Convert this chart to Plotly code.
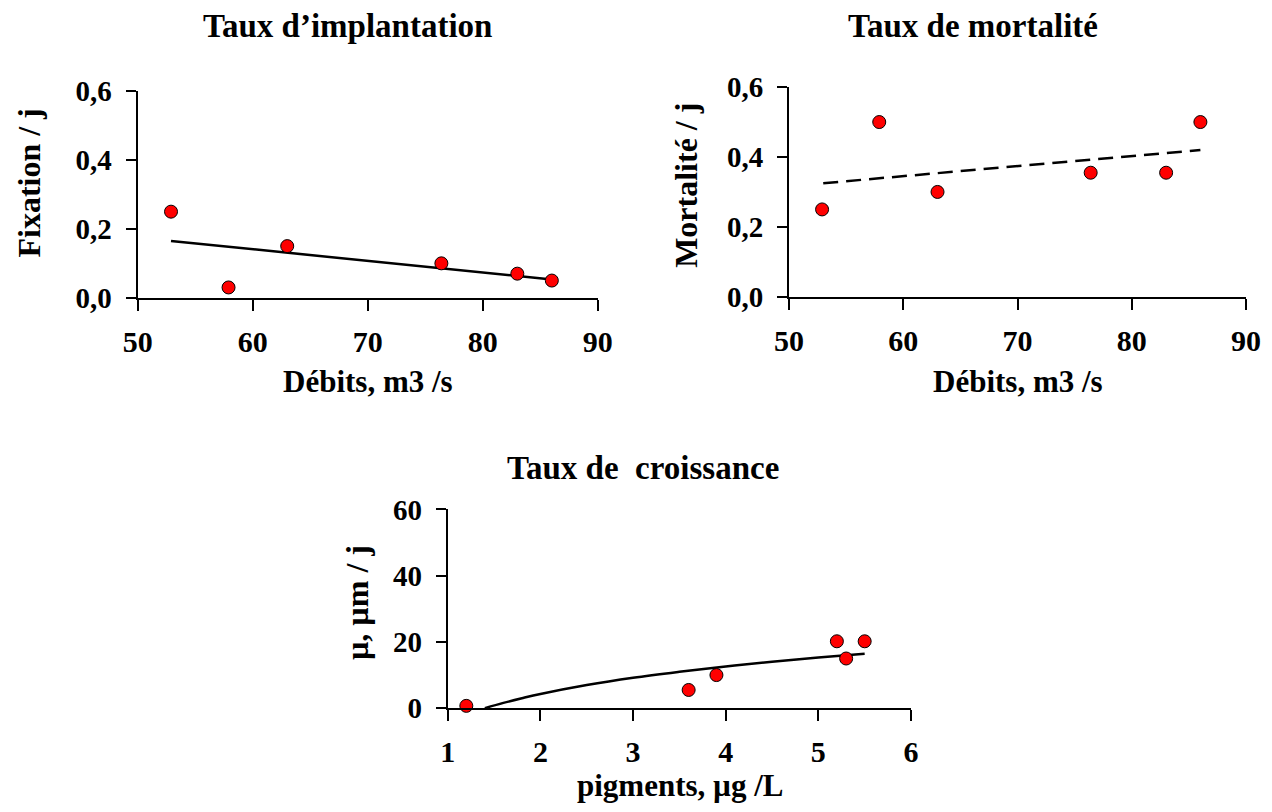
import plotly.graph_objects as go

# ---- data ----
debits = [52.9, 57.9, 63.0, 76.4, 83.0, 86.0]
fixation = [0.25, 0.03, 0.15, 0.10, 0.07, 0.05]
fix_trend_x = [52.9, 86.0]
fix_trend_y = [0.165, 0.053]

mortalite = [0.25, 0.50, 0.30, 0.355, 0.355, 0.50]
mort_trend_x = [53.0, 86.0]
mort_trend_y = [0.325, 0.42]

pigments = [1.2, 3.6, 3.9, 5.2, 5.3, 5.5]
croissance = [0.7, 5.5, 10.0, 20.2, 15.0, 20.2]
croiss_trend_x = [1.4, 1.6, 1.8, 2.0, 2.5, 3.0, 3.5, 4.0, 4.5, 5.0, 5.5]
croiss_trend_y = [0.0, 1.6, 3.0, 4.3, 7.0, 9.2, 11.0, 12.6, 14.0, 15.3, 16.4]

titles = ["Taux d\u2019implantation", "Taux de mortalit\u00e9", "Taux de\u00a0 croissance"]
xtitles = ["D\u00e9bits, m3 /s", "D\u00e9bits, m3 /s", "pigments, \u00b5g /L"]
ytitles = ["Fixation / j", "Mortalit\u00e9 / j", "\u00b5, \u00b5m / j"]

W, H = 1272, 812
FONT = "Liberation Serif"

fig = go.Figure()

marker = dict(size=13, color="#ff0000", line=dict(color="black", width=1))
line_solid = dict(color="black", width=2.5)

fig.add_trace(go.Scatter(x=fix_trend_x, y=fix_trend_y, mode="lines", line=line_solid,
                         xaxis="x", yaxis="y", showlegend=False))
fig.add_trace(go.Scatter(x=debits, y=fixation, mode="markers", marker=marker, cliponaxis=False,
                         xaxis="x", yaxis="y", showlegend=False))
fig.add_trace(go.Scatter(x=mort_trend_x, y=mort_trend_y, mode="lines",
                         line=dict(color="black", width=2.5, dash="15px,8px"),
                         xaxis="x2", yaxis="y2", showlegend=False))
fig.add_trace(go.Scatter(x=debits, y=mortalite, mode="markers", marker=marker, cliponaxis=False,
                         xaxis="x2", yaxis="y2", showlegend=False))
fig.add_trace(go.Scatter(x=croiss_trend_x, y=croiss_trend_y, mode="lines", line=line_solid,
                         line_shape="spline", xaxis="x3", yaxis="y3", showlegend=False))
fig.add_trace(go.Scatter(x=pigments, y=croissance, mode="markers", marker=marker, cliponaxis=False,
                         xaxis="x3", yaxis="y3", showlegend=False))


# map a target picture pixel to paper coordinates (calibrated from a test render)
def px_x(p):
    return ((p - 14.4) / 0.976) / W


def px_y(p):
    return 1 - ((p - 14.8) / 0.962) / H


tickfont_x = dict(family=FONT, size=30, color="black", weight="bold")
tickfont_y = dict(family=FONT, size=29, color="black", weight="bold")

common_x = dict(showline=True, linecolor="black", linewidth=2, ticks="outside", ticklen=11,
                tickwidth=2, tickcolor="black", showgrid=False, zeroline=False,
                tickfont=tickfont_x, ticklabelstandoff=5, fixedrange=True)
common_y = dict(showline=True, linecolor="black", linewidth=2, ticks="outside", ticklen=10,
                tickwidth=2, tickcolor="black", showgrid=False, zeroline=False,
                tickfont=tickfont_y, ticklabelstandoff=8, fixedrange=True)

fig.update_layout(
    width=W, height=H,
    margin=dict(l=0, r=0, t=0, b=0, pad=0),
    paper_bgcolor="white", plot_bgcolor="white",
    separators=", ",
    xaxis=dict(domain=[px_x(137), px_x(597)], range=[50, 90], dtick=10, anchor="y", **common_x),
    yaxis=dict(domain=[px_y(297), px_y(90)], range=[0, 0.6], dtick=0.2, tickformat=".1f",
               anchor="x", **common_y),
    xaxis2=dict(domain=[px_x(788), px_x(1245)], range=[50, 90], dtick=10, anchor="y2", **common_x),
    yaxis2=dict(domain=[px_y(296), px_y(86)], range=[0, 0.6], dtick=0.2, tickformat=".1f",
                anchor="x2", **common_y),
    xaxis3=dict(domain=[px_x(447), px_x(910)], range=[1, 6], dtick=1, anchor="y3", **common_x),
    yaxis3=dict(domain=[px_y(708), px_y(509)], range=[0, 60], dtick=20, anchor="x3", **common_y),
)

ann_font_t = dict(family=FONT, size=33, color="black", weight="bold")
ann_font_x = dict(family=FONT, size=31, color="black", weight="bold")
ann_font_y = dict(family=FONT, size=32, color="black", weight="bold")

title_pos = [(347, 25), (972, 25), (642, 467)]
xtitle_pos = [(367, 381), (1017, 381), (679, 785)]
ytitle_pos = [(28, 182), (685, 184), (357, 602)]

for t, (x, y) in zip(titles, title_pos):
    fig.add_annotation(text=t, x=px_x(x), y=px_y(y), xref="paper", yref="paper",
                       xanchor="center", yanchor="middle", showarrow=False, font=ann_font_t)
for t, (x, y) in zip(xtitles, xtitle_pos):
    fig.add_annotation(text=t, x=px_x(x), y=px_y(y), xref="paper", yref="paper",
                       xanchor="center", yanchor="middle", showarrow=False, font=ann_font_x)
for t, (x, y) in zip(ytitles, ytitle_pos):
    fig.add_annotation(text=t, x=px_x(x), y=px_y(y), xref="paper", yref="paper",
                       xanchor="center", yanchor="middle", showarrow=False, font=ann_font_y,
                       textangle=-90)

fig.write_html("out.html")
